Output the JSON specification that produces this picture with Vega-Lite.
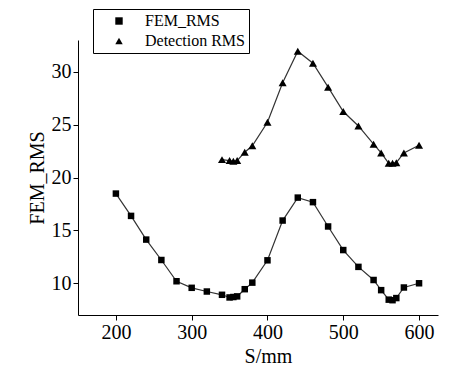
{
  "$schema": "https://vega.github.io/schema/vega-lite/v6.json",
  "width": 360,
  "height": 275,
  "autosize": {"type": "none"},
  "padding": {"left": 78, "top": 40, "right": 16, "bottom": 57},
  "background": "white",
  "config": {
    "view": {"stroke": null},
    "axis": {"grid": false, "domainColor": "black", "tickColor": "black"}
  },
  "data": {
    "values": [
      {"S": 200, "series": "FEM_RMS", "value": 18.48},
      {"S": 220, "series": "FEM_RMS", "value": 16.37},
      {"S": 240, "series": "FEM_RMS", "value": 14.13},
      {"S": 260, "series": "FEM_RMS", "value": 12.2},
      {"S": 280, "series": "FEM_RMS", "value": 10.19},
      {"S": 300, "series": "FEM_RMS", "value": 9.57},
      {"S": 320, "series": "FEM_RMS", "value": 9.22},
      {"S": 340, "series": "FEM_RMS", "value": 8.91},
      {"S": 350, "series": "FEM_RMS", "value": 8.66},
      {"S": 355, "series": "FEM_RMS", "value": 8.7},
      {"S": 360, "series": "FEM_RMS", "value": 8.76},
      {"S": 370, "series": "FEM_RMS", "value": 9.44},
      {"S": 380, "series": "FEM_RMS", "value": 10.06},
      {"S": 400, "series": "FEM_RMS", "value": 12.17},
      {"S": 420, "series": "FEM_RMS", "value": 15.93},
      {"S": 440, "series": "FEM_RMS", "value": 18.1},
      {"S": 460, "series": "FEM_RMS", "value": 17.67},
      {"S": 480, "series": "FEM_RMS", "value": 15.37},
      {"S": 500, "series": "FEM_RMS", "value": 13.14},
      {"S": 520, "series": "FEM_RMS", "value": 11.55},
      {"S": 540, "series": "FEM_RMS", "value": 10.31},
      {"S": 550, "series": "FEM_RMS", "value": 9.35},
      {"S": 560, "series": "FEM_RMS", "value": 8.45},
      {"S": 565, "series": "FEM_RMS", "value": 8.4},
      {"S": 570, "series": "FEM_RMS", "value": 8.6},
      {"S": 580, "series": "FEM_RMS", "value": 9.6},
      {"S": 600, "series": "FEM_RMS", "value": 10.0},
      {"S": 340, "series": "Detection RMS", "value": 21.69},
      {"S": 350, "series": "Detection RMS", "value": 21.6},
      {"S": 355, "series": "Detection RMS", "value": 21.53},
      {"S": 360, "series": "Detection RMS", "value": 21.6},
      {"S": 370, "series": "Detection RMS", "value": 22.39},
      {"S": 380, "series": "Detection RMS", "value": 23.0},
      {"S": 400, "series": "Detection RMS", "value": 25.22},
      {"S": 420, "series": "Detection RMS", "value": 28.95},
      {"S": 440, "series": "Detection RMS", "value": 31.94},
      {"S": 460, "series": "Detection RMS", "value": 30.8},
      {"S": 480, "series": "Detection RMS", "value": 28.54},
      {"S": 500, "series": "Detection RMS", "value": 26.24},
      {"S": 520, "series": "Detection RMS", "value": 24.87},
      {"S": 540, "series": "Detection RMS", "value": 23.15},
      {"S": 550, "series": "Detection RMS", "value": 22.32},
      {"S": 560, "series": "Detection RMS", "value": 21.34},
      {"S": 565, "series": "Detection RMS", "value": 21.34},
      {"S": 570, "series": "Detection RMS", "value": 21.4},
      {"S": 580, "series": "Detection RMS", "value": 22.32},
      {"S": 600, "series": "Detection RMS", "value": 23.05}
    ]
  },
  "layer": [
    {
      "mark": {"type": "line", "color": "#333333", "strokeWidth": 1.2},
      "encoding": {
        "x": {
          "field": "S", "type": "quantitative",
          "scale": {"domain": [150, 625], "nice": false, "zero": false},
          "axis": {
            "values": [200, 300, 400, 500, 600],
            "title": "S/mm", "titleX": 190,
            "labelFont": "Times New Roman", "labelFontSize": 20, "labelColor": "black",
            "titleFont": "Times New Roman", "titleFontSize": 20, "titleFontWeight": "normal", "titleColor": "black"
          }
        },
        "y": {
          "field": "value", "type": "quantitative",
          "scale": {"domain": [7, 33], "nice": false, "zero": false},
          "axis": {
            "values": [10, 15, 20, 25, 30],
            "title": "FEM_RMS",
            "labelFont": "Times New Roman", "labelFontSize": 20, "labelColor": "black",
            "titleFont": "Times New Roman", "titleFontSize": 20, "titleFontWeight": "normal", "titleColor": "black"
          }
        },
        "detail": {"field": "series"}
      }
    },
    {
      "transform": [{"filter": "datum.series === 'FEM_RMS'"}],
      "mark": {"type": "point", "shape": "square", "filled": true, "color": "black", "opacity": 1, "size": 42},
      "encoding": {
        "x": {"field": "S", "type": "quantitative"},
        "y": {"field": "value", "type": "quantitative"}
      }
    },
    {
      "transform": [{"filter": "datum.series === 'Detection RMS'"}],
      "mark": {"type": "point", "shape": "triangle-up", "filled": true, "color": "black", "opacity": 1, "size": 65},
      "encoding": {
        "x": {"field": "S", "type": "quantitative"},
        "y": {"field": "value", "type": "quantitative"}
      }
    },
    {
      "transform": [{"filter": "false"}],
      "mark": {"type": "point", "filled": true, "color": "black", "opacity": 1},
      "encoding": {
        "x": {"field": "S", "type": "quantitative"},
        "y": {"field": "value", "type": "quantitative"},
        "shape": {
          "field": "series",
          "scale": {"domain": ["FEM_RMS", "Detection RMS"], "range": ["square", "triangle-up"]},
          "legend": {
            "title": null,
            "orient": "none",
            "legendX": 15,
            "legendY": -31,
            "strokeColor": "black",
            "padding": 4,
            "rowPadding": 4,
            "labelFont": "Times New Roman",
            "labelFontSize": 16,
            "labelColor": "black",
            "symbolSize": 55,
            "symbolOffset": 14,
            "labelOffset": 18,
            "symbolFillColor": "black",
            "symbolStrokeColor": "black",
            "symbolOpacity": 1
          }
        }
      }
    }
  ]
}
